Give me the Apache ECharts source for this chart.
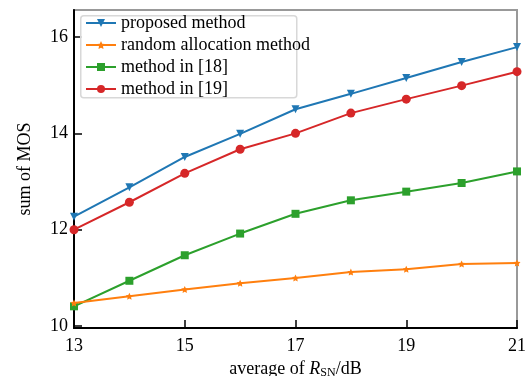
<!DOCTYPE html>
<html>
<head>
<meta charset="utf-8">
<script src="https://cdn.jsdelivr.net/npm/echarts@6/dist/echarts.min.js"></script>
<style>
    html, body { margin: 0; padding: 0; background: #fff; }
    #chart { width: 529px; height: 376px; }
</style>
</head>
<body>
<div id="chart"></div>
<script>
    // x values: average R_SN in dB
    var snr = [13, 14, 15, 16, 17, 18, 19, 20, 21];
    var proposed = [12.27, 12.88, 13.51, 13.99, 14.50, 14.82, 15.15, 15.48, 15.79];
    var randomAlloc = [10.48, 10.62, 10.76, 10.89, 11.00, 11.12, 11.18, 11.29, 11.31];
    var method18 = [10.41, 10.94, 11.47, 11.92, 12.33, 12.61, 12.79, 12.97, 13.21];
    var method19 = [12.00, 12.57, 13.17, 13.67, 14.00, 14.42, 14.71, 14.99, 15.28];
    var xTicks = [13, 15, 17, 19, 21];
    var yTicks = [10, 12, 14, 16];

    var names = ['proposed method', 'random allocation method', 'method in [18]', 'method in [19]'];
    var colors = ['#1f77b4', '#ff7f0e', '#2ca02c', '#d62728'];
    var values = [proposed, randomAlloc, method18, method19];

    var starPath = 'path://M0,-10 L2.9,-4 L9.5,-3.1 L4.8,1.5 L5.9,8.1 L0,5 L-5.9,8.1 L-4.8,1.5 L-9.5,-3.1 L-2.9,-4 Z';
    var symbols = ['triangle', starPath, 'rect', 'circle'];
    var sizes = [8, 7, 8, 9];
    var rotates = [180, 0, 0, 0];

    var font = '"Liberation Serif", "DejaVu Serif", serif';

    var chart = echarts.init(document.getElementById('chart'));

    var series = [];
    for (var i = 0; i < names.length; i++) {
        var pts = [];
        for (var j = 0; j < snr.length; j++) {
            pts.push([snr[j], values[i][j]]);
        }
        series.push({
            name: names[i],
            type: 'line',
            data: pts,
            symbol: symbols[i],
            symbolSize: sizes[i],
            symbolRotate: rotates[i],
            showAllSymbol: true,
            color: colors[i],
            lineStyle: { width: 2 },
            animation: false,
            z: 10 - i
        });
    }

    var option = {
        backgroundColor: '#fff',
        animation: false,
        grid: {
            left: 74,
            right: 12,
            top: 10,
            bottom: 48,
            outerBoundsMode: 'none',
            show: true,
            borderColor: '#999',
            borderWidth: 2
        },
        legend: {
            orient: 'vertical',
            left: 85,
            top: 14,
            padding: 0,
            z: 60,
            itemWidth: 30,
            itemHeight: 10,
            itemGap: 4,
            data: names,
            textStyle: { fontFamily: font, fontSize: 18, color: '#000', lineHeight: 18 }
        },
        graphic: [{
            type: 'rect',
            left: 80,
            top: 15,
            shape: { width: 216, height: 82, r: 3 },
            style: { fill: 'rgba(255,255,255,0.8)', stroke: '#d8d8d8', lineWidth: 1.5 },
            z: 20
        }],
        xAxis: {
            type: 'value',
            min: 13,
            max: 21,
            name: 'average of {i|R}{sub|SN}/dB',
            nameLocation: 'middle',
            nameGap: 29,
            nameTextStyle: {
                fontFamily: font, fontSize: 18, color: '#000',
                rich: {
                    i: { fontFamily: font, fontSize: 18, fontStyle: 'italic', color: '#000' },
                    sub: { fontFamily: font, fontSize: 12, color: '#000', verticalAlign: 'bottom', padding: [8, 0, 0, 0] }
                }
            },
            splitLine: { show: false },
            axisLine: { lineStyle: { color: '#000', width: 2 } },
            axisTick: { inside: true, length: 8, lineStyle: { color: '#000', width: 1.5 }, customValues: xTicks },
            axisLabel: { fontFamily: font, fontSize: 18, color: '#000', margin: 9, customValues: xTicks }
        },
        yAxis: {
            type: 'value',
            min: 9.96,
            max: 16.56,
            name: 'sum of MOS',
            nameLocation: 'middle',
            nameGap: 40,
            nameTextStyle: { fontFamily: font, fontSize: 18, color: '#000' },
            splitLine: { show: false },
            axisLine: { lineStyle: { color: '#000', width: 2 } },
            axisTick: { inside: true, length: 8, lineStyle: { color: '#000', width: 1.5 }, customValues: yTicks },
            axisLabel: { fontFamily: font, fontSize: 18, color: '#000', margin: 6, customValues: yTicks }
        },
        series: series
    };

    chart.setOption(option);
</script>
</body>
</html>
